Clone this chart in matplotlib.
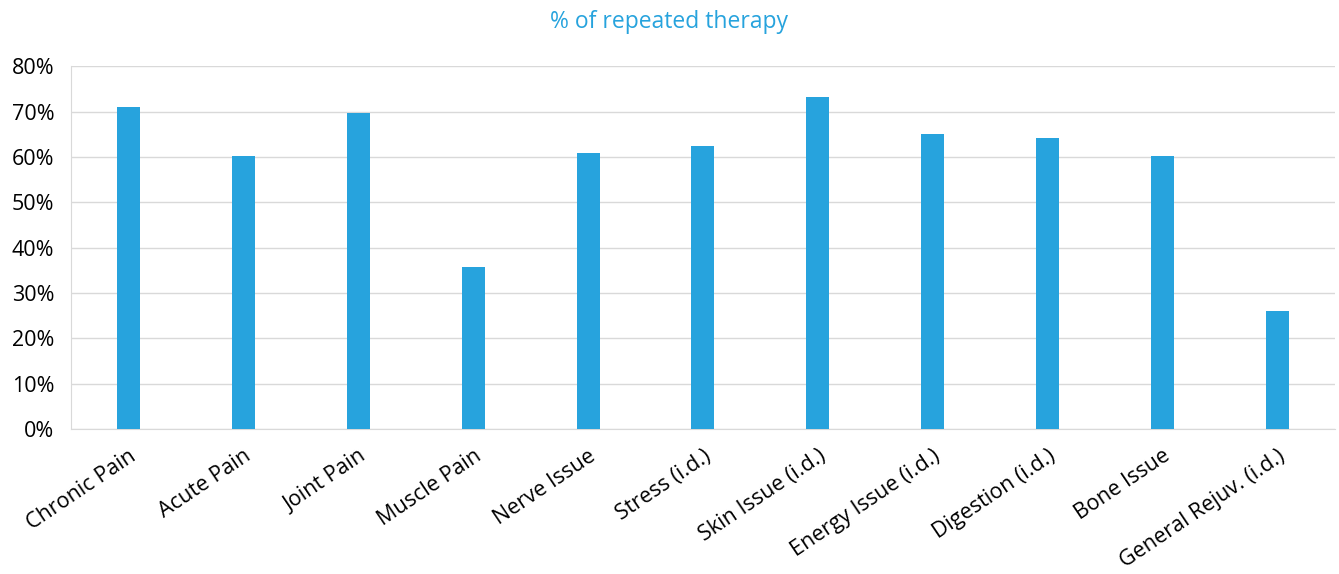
import matplotlib
matplotlib.use('Agg')
import matplotlib.pyplot as plt
from matplotlib.ticker import PercentFormatter

categories = ['Chronic Pain', 'Acute Pain', 'Joint Pain', 'Muscle Pain', 'Nerve Issue',
              'Stress (i.d.)', 'Skin Issue (i.d.)', 'Energy Issue (i.d.)', 'Digestion (i.d.)',
              'Bone Issue', 'General Rejuv. (i.d.)']
repeated = [71.0, 60.1, 69.6, 35.7, 60.8, 62.4, 73.2, 65.0, 64.2, 60.1, 26.0]

plt.rcParams['font.family'] = ['Open Sans', 'DejaVu Sans']

fig = plt.figure(figsize=(13.39, 5.74), dpi=100)
ax = fig.add_axes([0.053, 0.2526, 0.944, 0.632])

x = range(len(categories))
ax.bar(x, repeated, width=0.2, color='#27a3dd', zorder=3)

ax.set_xlim(-0.5, len(categories) - 0.5)
ax.set_ylim(0, 80)
ax.set_yticks(range(0, 81, 10))
ax.yaxis.set_major_formatter(PercentFormatter(decimals=0))
ax.grid(axis='y', color='#d9d9d9', linewidth=1, zorder=0)
ax.set_xticks(list(x))
ax.set_xticklabels(categories, rotation=34, ha='right', rotation_mode='anchor', fontsize=15.5)
ax.tick_params(axis='y', labelsize=15.5, length=0, pad=12)
ax.tick_params(axis='x', length=0, pad=12)
for s in ['top', 'right']:
    ax.spines[s].set_visible(False)
for s in ['left', 'bottom']:
    ax.spines[s].set_color('#d9d9d9')

fig.text(0.5, 0.962, '% of repeated therapy', ha='center', va='center',
         fontsize=16.5, color='#27a3dd')

fig.savefig('out.png', dpi=100)
